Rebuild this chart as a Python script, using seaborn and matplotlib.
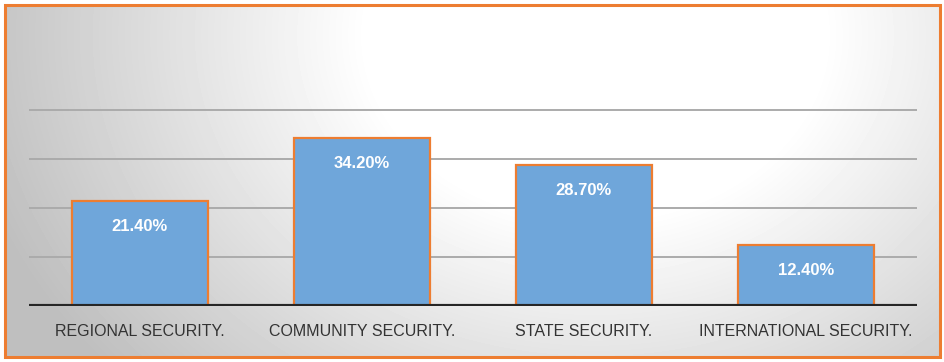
import numpy as np
import pandas as pd
import seaborn as sns
import matplotlib.pyplot as plt
from matplotlib.patches import Rectangle

# data
categories = ["REGIONAL SECURITY.", "COMMUNITY SECURITY.", "STATE SECURITY.", "INTERNATIONAL SECURITY."]
shares = [0.214, 0.342, 0.287, 0.124]
labels = ["21.40%", "34.20%", "28.70%", "12.40%"]

df = pd.DataFrame({"category": categories, "share": shares})

sns.set_theme(style="white")
plt.rcParams["font.family"] = ["Liberation Sans", "DejaVu Sans"]

W, H = 945, 362
fig = plt.figure(figsize=(W / 100, H / 100), dpi=100)
fig.patch.set_facecolor("white")

# radial grey background inside the orange frame
bg = fig.add_axes([5 / W, 5 / H, 935 / W, 352 / H])
yy, xx = np.mgrid[0:352, 0:935]
r = np.sqrt(((xx - 590) / 600.0) ** 2 + ((yy - 30) / 480.0) ** 2)
shade = 255 - 58 * np.clip((r - 0.38) / 0.62, 0, 1.1)
bg.imshow(shade, cmap="gray", vmin=0, vmax=255, aspect="auto", interpolation="bilinear")
bg.axis("off")

frame = Rectangle((5 / W, 5 / H), 935 / W, 352 / H, transform=fig.transFigure,
                  fill=False, edgecolor="#ED7D31", linewidth=2.2, zorder=10)
fig.patches.append(frame)

# chart area
ax = fig.add_axes([29 / W, 56 / H, 888 / W, 245 / H])
ax.set_facecolor("none")

sns.barplot(data=df, x="category", y="share", ax=ax, color="#6FA6DA",
            width=0.61, edgecolor="#ED7D31", linewidth=1.6, saturation=1, zorder=3)

ax.set_ylim(0, 0.5)
ax.set_xlim(-0.5, 3.5)
ax.set_yticks([])
for g in [0.1, 0.2, 0.3, 0.4]:
    ax.axhline(g, color="#ababab", linewidth=1.4, zorder=1)
ax.axhline(0, color="#262626", linewidth=3, zorder=4)

for s in ax.spines.values():
    s.set_visible(False)

for i, (v, lab) in enumerate(zip(shares, labels)):
    ax.annotate(lab, (i, v), xytext=(0, -18), textcoords="offset points",
                ha="center", va="center", color="white", fontsize=12,
                fontweight="bold", zorder=5)

ax.set_xlabel("")
ax.set_ylabel("")
ax.tick_params(axis="x", length=0, pad=13, labelsize=11.5, labelcolor="#333333")

fig.savefig("out.png", dpi=100)
